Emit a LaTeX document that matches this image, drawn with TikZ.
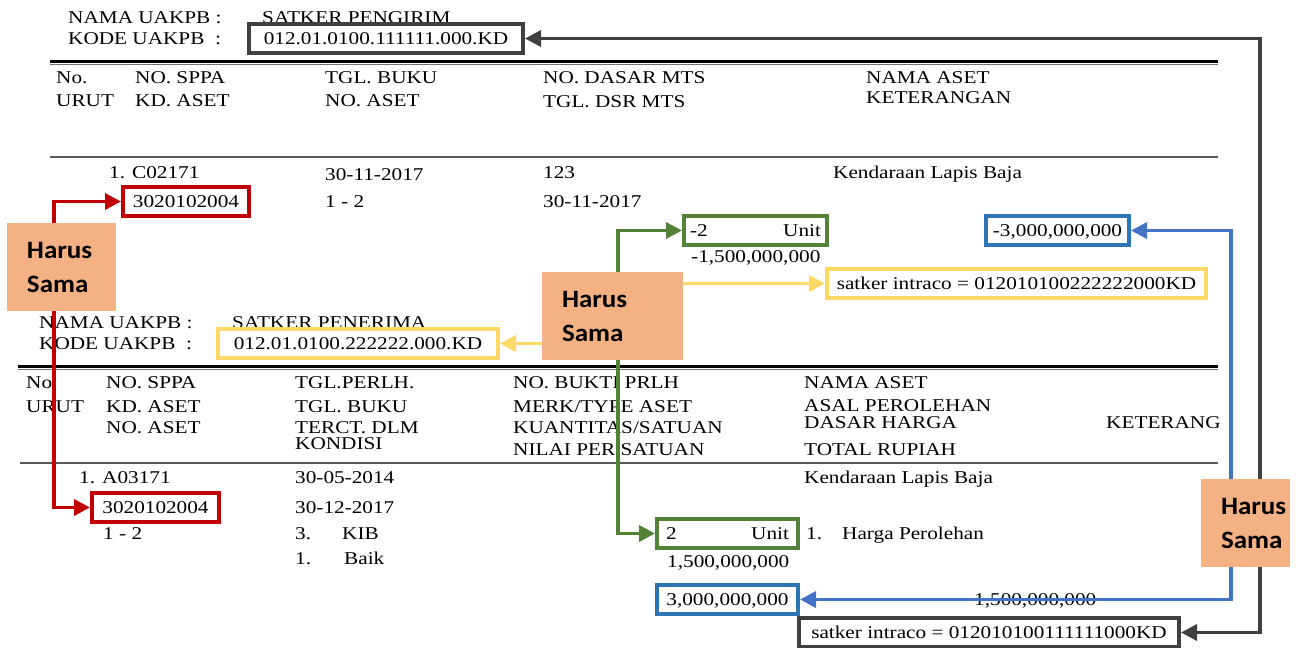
\documentclass[tikz,border=0pt]{standalone}
\usepackage{fontspec}
\setmainfont{Liberation Serif}[FakeStretch=1.18]
\newfontfamily\harusfont{Carlito}[FakeStretch=1.08]
\usepackage{tikz}
\usetikzlibrary{arrows.meta}
\definecolor{darkline}{HTML}{404040}
\definecolor{redline}{HTML}{C00000}
\definecolor{greenline}{HTML}{538135}
\definecolor{blueline}{HTML}{4472C4}
\definecolor{bluebox}{HTML}{2E75B6}
\definecolor{yellowline}{HTML}{FFD966}
\definecolor{harusfill}{HTML}{F4B183}
\tikzset{txt/.style={anchor=base west, inner sep=0pt},
  codebox/.style={draw=#1, line width=4pt, anchor=base, inner xsep=2pt, inner ysep=6pt, text height=14pt, text depth=3pt},
  wire/.style={draw=#1, line width=3.5pt},
  harus/.style={fill=harusfill, inner xsep=20pt, inner ysep=0pt, minimum height=88pt, text width=#1, align=left,
    font=\harusfont\bfseries\fontsize{25}{34}\selectfont}}

\begin{document}
\begin{tikzpicture}[x=1pt, y=-1pt, >={Triangle[length=16pt,width=16pt]}, font=\fontsize{18}{22}\selectfont]
    \useasboundingbox (0,0) rectangle (1302,648);

    % satker pengirim
    \node[txt] (nama-1) at (68,23) {NAMA UAKPB :};
    \node[txt] (kode-1) at (68,44) {KODE UAKPB~~:};
    \node[txt] (satker-1) at (262,23) {SATKER PENGIRIM};
    \draw[line width=3pt] (50,61.5) -- (1218,61.5);
    \draw[black!55, line width=1.6pt] (50,64.5) -- (1218,64.5);

    \node[txt] (h1-1) at (56,83) {No.};
    \node[txt] (h1-2) at (135,83) {NO. SPPA};
    \node[txt] (h1-3) at (325,83) {TGL. BUKU};
    \node[txt] (h1-4) at (543,83) {NO. DASAR MTS};
    \node[txt] (h1-5) at (866,83) {NAMA ASET};
    \node[txt] (h1-6) at (56,106) {URUT};
    \node[txt] (h1-7) at (135,106) {KD. ASET};
    \node[txt] (h1-8) at (325,106) {NO. ASET};
    \node[txt] (h1-9) at (543,107) {TGL. DSR MTS};
    \node[txt] (h1-10) at (866,103) {KETERANGAN};
    \draw[black!65, line width=1.5pt] (50,157) -- (1218,157);

    \node[txt] (d1-1) at (109,178) {1. C02171};
    \node[txt] (d1-2) at (325,180) {30-11-2017};
    \node[txt] (d1-3) at (543,178) {123};
    \node[txt] (d1-4) at (833,178) {Kendaraan Lapis Baja};
    \node[txt] (d1-5) at (325,207) {1 - 2};
    \node[txt] (d1-6) at (543,207) {30-11-2017};
    \node[txt] (d1-7) at (691,262) {-1,500,000,000};

    % satker penerima
    \node[txt] (nama-2) at (39,328) {NAMA UAKPB :};
    \node[txt] (kode-2) at (39,349) {KODE UAKPB~~:};
    \node[txt] (satker-2) at (232,328) {SATKER PENERIMA};
    \draw[line width=3pt] (18,366.5) -- (1218,366.5);
    \draw[black!55, line width=1.6pt] (18,369.5) -- (1218,369.5);

    \node[txt] (h2-1) at (26,388) {No.};
    \node[txt] (h2-2) at (106,388) {NO. SPPA};
    \node[txt] (h2-3) at (295,388) {TGL.PERLH.};
    \node[txt] (h2-4) at (513,388) {NO. BUKTI PRLH};
    \node[txt] (h2-5) at (804,388) {NAMA ASET};
    \node[txt] (h2-6) at (26,412) {URUT};
    \node[txt] (h2-7) at (106,412) {KD. ASET};
    \node[txt] (h2-8) at (295,412) {TGL. BUKU};
    \node[txt] (h2-9) at (513,412) {MERK/TYPE ASET};
    \node[txt] (h2-10) at (804,411) {ASAL PEROLEHAN};
    \node[txt] (h2-11) at (106,433) {NO. ASET};
    \node[txt] (h2-12) at (295,433) {TERCT. DLM};
    \node[txt] (h2-13) at (513,433) {KUANTITAS/SATUAN};
    \node[txt] (h2-14) at (804,428) {DASAR HARGA};
    \node[txt] (h2-15) at (1106,428) {KETERANG};
    \node[txt] (h2-16) at (295,449) {KONDISI};
    \node[txt] (h2-17) at (513,455) {NILAI PER SATUAN};
    \node[txt] (h2-18) at (804,455) {TOTAL RUPIAH};
    \draw[black!65, line width=1.5pt] (20,463) -- (1218,463);

    \node[txt] (d2-1) at (79,483) {1. A03171};
    \node[txt] (d2-2) at (295,483) {30-05-2014};
    \node[txt] (d2-3) at (804,483) {Kendaraan Lapis Baja};
    \node[txt] (d2-4) at (295,513) {30-12-2017};
    \node[txt] (d2-5) at (103,539) {1 - 2};
    \node[txt] (d2-6) at (295,539) {3.};
    \node[txt] (d2-7) at (342,539) {KIB};
    \node[txt] (d2-8) at (295,564) {1.};
    \node[txt] (d2-9) at (344,564) {Baik};
    \node[txt] (d2-10) at (806,539) {1.};
    \node[txt] (d2-11) at (842,539) {Harga Perolehan};
    \node[txt] (d2-12) at (667,567) {1,500,000,000};
    \node[txt] (d2-13) at (974,605) {1,500,000,000};

    % kotak yang dibandingkan
    \node[codebox=darkline, minimum width=274pt] (uakpb-1) at (386,44) {012.01.0100.111111.000.KD};
    \node[codebox=redline, minimum width=126pt] (kd-1) at (186,207) {3020102004};
    \node[codebox=greenline, text width=131pt, inner xsep=6pt] (unit-1) at (755.5,236) {-2\hfill Unit};
    \node[codebox=bluebox, minimum width=143pt] (rp-1) at (1057.5,236) {-3,000,000,000};
    \node[codebox=yellowline, minimum width=379pt] (intra-1) at (1016.5,289) {satker intraco = 012010100222222000KD};
    \node[codebox=yellowline, minimum width=280pt] (uakpb-2) at (358,349) {012.01.0100.222222.000.KD};
    \node[codebox=redline, minimum width=127pt] (kd-2) at (155.5,513) {3020102004};
    \node[codebox=greenline, text width=123pt, inner xsep=9pt] (unit-2) at (727.5,539) {2\hfill Unit};
    \node[codebox=bluebox, minimum width=141pt] (rp-2) at (727.5,605) {3,000,000,000};
    \node[codebox=darkline, minimum width=380pt] (intra-2) at (989,638) {satker intraco = 012010100111111000KD};

    \draw[wire=redline, <->] (kd-1.west) -- ++(-67,0) |- (kd-2.west);
    \draw[wire=greenline, <->] (unit-1.west) -- ++(-64,0) |- (unit-2.west);
    \draw[wire=blueline, <->] (rp-1.east) -- ++(100,0) |- (rp-2.east);
    \draw[wire=darkline, <->] (uakpb-1.east) -- ++(735,0) |- (intra-2.east);

    \node[harus=69pt] (hs-1) at (61.5,267) {Harus\\Sama};
    \node[harus=101pt] (hs-2) at (612.5,316) {Harus\\Sama};
    \node[harus=49pt] (hs-3) at (1245.5,523) {Harus\\Sama};

    \draw[wire=yellowline, ->] (hs-2.east |- intra-1.west) -- (intra-1.west);
    \draw[wire=yellowline, ->] (hs-2.west |- uakpb-2.east) -- (uakpb-2.east);
\end{tikzpicture}
\end{document}
